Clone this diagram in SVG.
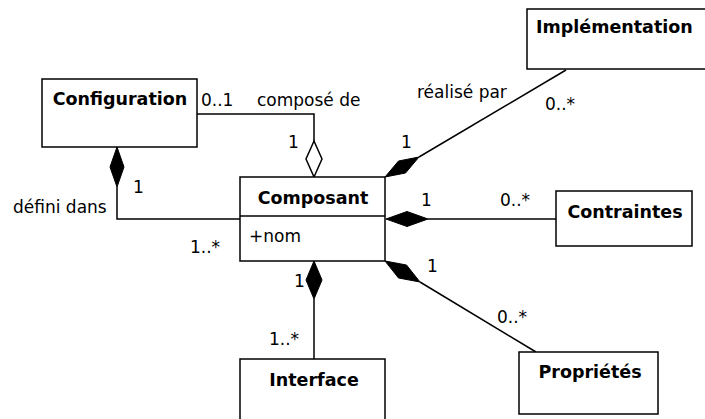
<svg xmlns="http://www.w3.org/2000/svg" width="705" height="419" viewBox="0 0 705 419">
<style>
.box{fill:#fff;stroke:#000;stroke-width:1.5}
.t{font-family:"DejaVu Sans",Verdana,sans-serif;font-size:17px;fill:#000}
.b{font-family:"DejaVu Sans",Verdana,sans-serif;font-size:17.5px;font-weight:bold;fill:#000;text-anchor:middle}
.ln{fill:none;stroke:#000;stroke-width:1.5}
.fd{fill:#000;stroke:#000;stroke-width:1}
.hd{fill:#fff;stroke:#000;stroke-width:1.5}
</style>
<rect width="705" height="419" fill="#fff"/>
<g id="connectors">
  <polyline class="ln" points="197,114 314,114 314,141"/>
  <polygon class="hd" points="314,141 322,159 314,177 306,159"/>
  <polyline class="ln" points="117,187 117,219 240,219"/>
  <polygon class="fd" points="117,147 124,167 117,187 110,167"/>
  <line class="ln" x1="566" y1="70" x2="419" y2="157"/>
  <polygon class="fd" points="385,177 405.5,173 419,157 398.5,161"/>
  <line class="ln" x1="428" y1="219" x2="556" y2="219"/>
  <polygon class="fd" points="386,219 407,211.5 428,219 407,226.5"/>
  <line class="ln" x1="420" y1="282" x2="536" y2="352"/>
  <polygon class="fd" points="385,261 398.5,278 420,282 406.5,265"/>
  <line class="ln" x1="314" y1="299" x2="314" y2="359"/>
  <polygon class="fd" points="314,261 322,280 314,299 306,280"/>
</g>
<g id="labels">
  <text class="t" x="201" y="106">0..1</text>
  <text class="t" x="257" y="106">composé de</text>
  <text class="t" x="288" y="148">1</text>
  <text class="t" x="133" y="193">1</text>
  <text class="t" x="13" y="213">défini dans</text>
  <text class="t" x="190" y="253">1..*</text>
  <text class="t" x="417" y="98">réalisé par</text>
  <text class="t" x="545" y="110">0..*</text>
  <text class="t" x="401" y="148">1</text>
  <text class="t" x="421" y="206">1</text>
  <text class="t" x="500" y="206">0..*</text>
  <text class="t" x="427" y="272">1</text>
  <text class="t" x="497" y="323">0..*</text>
  <text class="t" x="294" y="287">1</text>
  <text class="t" x="269" y="345">1..*</text>
</g>
<g id="Configuration">
  <rect class="box" x="42" y="79" width="155" height="68"/>
  <text class="b" x="120" y="105">Configuration</text>
</g>
<g id="Composant">
  <rect class="box" x="240" y="177" width="145" height="84"/>
  <line class="ln" x1="240" y1="216" x2="385" y2="216"/>
  <text class="b" x="313" y="204">Composant</text>
  <text class="t" x="249" y="242">+nom</text>
</g>
<g id="Implementation">
  <rect class="box" x="527" y="9" width="190" height="60"/>
  <text class="t" x="536" y="33" style="font-weight:bold;font-size:17.5px">Implémentation</text>
</g>
<g id="Contraintes">
  <rect class="box" x="556" y="191" width="136" height="55"/>
  <text class="b" x="625" y="218">Contraintes</text>
</g>
<g id="Interface">
  <rect class="box" x="240" y="359" width="145" height="70"/>
  <text class="b" x="314" y="386">Interface</text>
</g>
<g id="Proprietes">
  <rect class="box" x="519" y="352" width="139" height="62"/>
  <text class="b" x="590" y="378">Propriétés</text>
</g>
</svg>
